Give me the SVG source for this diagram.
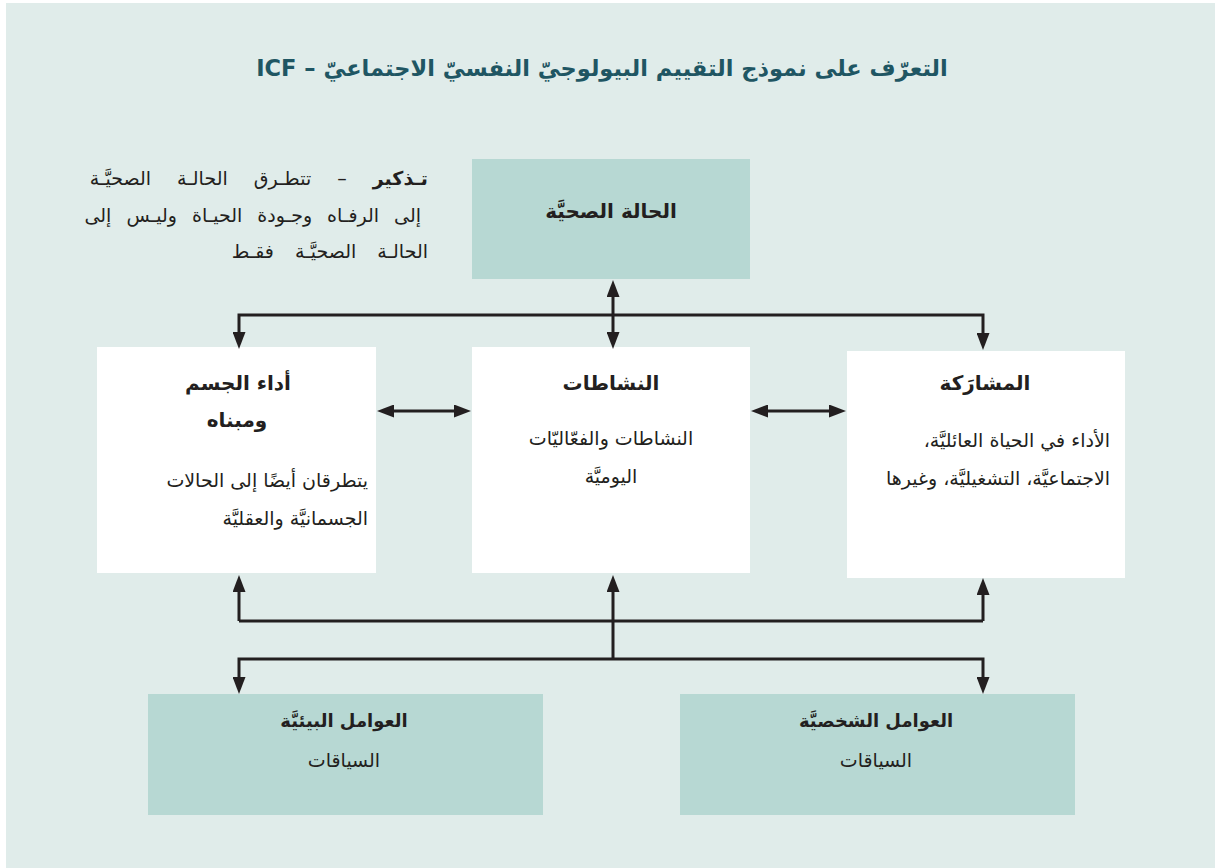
<svg xmlns="http://www.w3.org/2000/svg" width="1215" height="868" viewBox="0 0 1215 868">
  <style>
    .bg { fill: #e0ecea; }
    .teal { fill: #b7d8d3; }
    .white { fill: #ffffff; }
    .ar { font-family: "DejaVu Sans", "Noto Sans", sans-serif; fill: #231f20; direction: rtl; }
    .title { font-size: 22.5px; font-weight: bold; fill: #1f5663; }
    .head { font-size: 20px; font-weight: bold; }
    .body { font-size: 19px; }
    .note { font-size: 19px; }
    .conn { fill: none; stroke: #231f20; stroke-width: 3; stroke-linejoin: miter; }
  </style>
  <defs>
    <marker id="ah" viewBox="0 0 17 13" markerWidth="17" markerHeight="13" markerUnits="userSpaceOnUse" refX="5" refY="6.5" orient="auto-start-reverse">
      <path d="M0,0 L17,6.5 L0,13 z" fill="#231f20"/>
    </marker>
  </defs>

  <rect class="bg" x="6" y="3" width="1209" height="865"/>

  <text class="ar title" x="602" y="76" text-anchor="middle">التعرّف على نموذج التقييم البيولوجيّ النفسيّ الاجتماعيّ – ICF</text>

  <g id="note">
    <text class="ar note" x="428" y="185" text-anchor="start" word-spacing="20"><tspan font-weight="bold">تـذكير</tspan> – تتطـرق الحالـة الصحيَّـة</text>
    <text class="ar note" x="421" y="222" text-anchor="start" word-spacing="9">إلى الرفـاه وجـودة الحيـاة وليـس إلى</text>
    <text class="ar note" x="428" y="258" text-anchor="start" word-spacing="15">الحالـة الصحيَّـة فقـط</text>
  </g>

  <g id="health">
    <rect class="teal" x="472" y="159" width="278" height="120"/>
    <text class="ar head" x="611" y="218" text-anchor="middle">الحالة الصحيَّة</text>
  </g>

  <g id="body-structure">
    <rect class="white" x="97" y="347" width="279" height="226"/>
    <text class="ar head" x="238" y="390" text-anchor="middle">أداء الجسم</text>
    <text class="ar head" x="237" y="427" text-anchor="middle">ومبناه</text>
    <text class="ar body" x="368" y="487" text-anchor="start">يتطرقان أيضًا إلى الحالات</text>
    <text class="ar body" x="368" y="525" text-anchor="start">الجسمانيَّة والعقليَّة</text>
  </g>

  <g id="activities">
    <rect class="white" x="472" y="347" width="278" height="226"/>
    <text class="ar head" x="611" y="390" text-anchor="middle">النشاطات</text>
    <text class="ar body" x="611" y="445" text-anchor="middle">النشاطات والفعّاليّات</text>
    <text class="ar body" x="611" y="483" text-anchor="middle">اليوميَّة</text>
  </g>

  <g id="participation">
    <rect class="white" x="847" y="351" width="278" height="227"/>
    <text class="ar head" x="985" y="390" text-anchor="middle">المشارَكة</text>
    <text class="ar body" x="1110" y="447" text-anchor="start">الأداء في الحياة العائليَّة،</text>
    <text class="ar body" x="1110" y="485" text-anchor="start">الاجتماعيَّة، التشغيليَّة، وغيرها</text>
  </g>

  <g id="environmental">
    <rect class="teal" x="148" y="694" width="395" height="121"/>
    <text class="ar head" x="344" y="727" text-anchor="middle" style="font-size:18px">العوامل البيئيَّة</text>
    <text class="ar body" x="344" y="767" text-anchor="middle">السياقات</text>
  </g>

  <g id="personal">
    <rect class="teal" x="680" y="694" width="395" height="121"/>
    <text class="ar head" x="876" y="727" text-anchor="middle" style="font-size:18px">العوامل الشخصيَّة</text>
    <text class="ar body" x="876" y="767" text-anchor="middle">السياقات</text>
  </g>

  <g id="connectors">
    <path class="conn" d="M613,292 V337" marker-start="url(#ah)" marker-end="url(#ah)"/>
    <path class="conn" d="M239,337 V315 H983 V338" marker-start="url(#ah)" marker-end="url(#ah)"/>
    <path class="conn" d="M389,411 H459" marker-start="url(#ah)" marker-end="url(#ah)"/>
    <path class="conn" d="M763,411 H834" marker-start="url(#ah)" marker-end="url(#ah)"/>
    <path class="conn" d="M239,621 V587" marker-end="url(#ah)"/>
    <path class="conn" d="M613,659 V587" marker-end="url(#ah)"/>
    <path class="conn" d="M983,621 V590" marker-end="url(#ah)"/>
    <path class="conn" d="M239,621 H983"/>
    <path class="conn" d="M239,682 V659 H983 V682" marker-start="url(#ah)" marker-end="url(#ah)"/>
  </g>
</svg>
